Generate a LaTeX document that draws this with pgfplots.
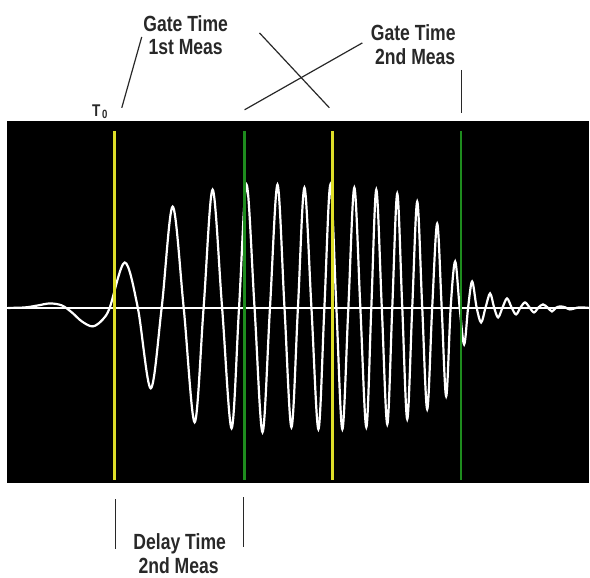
\documentclass[border=0pt]{standalone}
\usepackage{fontspec}
\setmainfont{Liberation Sans}[FakeStretch=0.8]
\usepackage{pgfplots}
\pgfplotsset{compat=1.18}

\definecolor{scopeyellow}{RGB}{222,222,40}
\definecolor{scopegreen}{RGB}{30,140,30}
\definecolor{annot}{RGB}{40,40,40}

\begin{document}
\begin{tikzpicture}
\begin{axis}[
    width=590pt, height=579pt, scale only axis,
    xmin=0, xmax=590, ymin=0, ymax=579,
    y dir=reverse,
    hide axis,
    clip=false,
]
    % page frame and scope screen
    \path (axis cs:0,0) rectangle (axis cs:590,579);
    \fill[black] (axis cs:7,121) rectangle (axis cs:590,484);

    % chirp burst (pixel coordinates)
    \addplot[white, line width=2.2pt, smooth, tension=0.55] coordinates {
        (8,308.5) (25,308) (38,306) (50,304) (62,306) (72,313) (82,322)
        (93,327) (103,320) (110,308) (125,263) (138,308) (151,389)
        (162,308) (173,207) (184,308) (195,423) (204,308) (213,190)
        (222.5,308) (232,429) (239.5,308) (247,185) (255,308) (263,433)
        (270.5,308) (278,185) (285,308) (292,428) (298.5,308) (305,188)
        (312,308) (319,430) (325,308) (331,185) (337,308) (343,430)
        (349,308) (355,188) (361,308) (367,428) (372,308) (377,190)
        (382.5,308) (388,425) (393,308) (398,194) (403,308) (408,420)
        (413,308) (418,202) (423,308) (428,410) (433,308) (438,224)
        (442.5,308) (447,397) (451.5,308) (456,262) (460.5,308) (465,345)
        (469,308) (473,282) (477.5,308) (482,323) (486.5,308) (491,294)
        (495,308) (499,318) (503.5,308) (508,299) (512.5,308) (517,315)
        (521.5,308) (526,303) (530.5,308) (535,313) (539.5,308) (544,305)
        (548.5,308) (553,312) (557.5,308) (562,307) (566.5,308) (571,310)
        (580,308) (590,308.5)
    };
    % baseline
    \addplot[white, line width=2pt] coordinates {(7,308.5) (590,308.5)};

    % gate markers
    \addplot[scopeyellow, line width=2.6pt] coordinates {(115,131) (115,481)};
    \addplot[scopeyellow, line width=2.6pt] coordinates {(333,131) (333,481)};
    \addplot[scopegreen, line width=2.6pt] coordinates {(245,131) (245,481)};
    \addplot[scopegreen, line width=2.6pt] coordinates {(462,131) (462,481)};

    % annotation leaders
    \draw[annot, line width=1.2pt] (axis cs:122,108) -- (axis cs:142,37);
    \draw[annot, line width=1.2pt] (axis cs:260,33) -- (axis cs:330,108);
    \draw[annot, line width=1.2pt] (axis cs:245,110) -- (axis cs:363,43);
    \draw[annot, line width=1.2pt] (axis cs:462,70) -- (axis cs:462,113);
    \draw[annot, line width=1.2pt] (axis cs:116,500) -- (axis cs:116,550);
    \draw[annot, line width=1.2pt] (axis cs:244,498) -- (axis cs:244,548);

    % labels
    \begin{scope}[every node/.style={annot, inner sep=0pt, anchor=base,
            font=\fontsize{22pt}{24pt}\selectfont\bfseries}]
        \node at (axis cs:186,32) {Gate Time};
        \node at (axis cs:186,55) {1st Meas};
        \node at (axis cs:414,41) {Gate Time};
        \node at (axis cs:416,65) {2nd Meas};
        \node at (axis cs:180,551) {Delay Time};
        \node at (axis cs:179,575) {2nd Meas};
    \end{scope}
    \node[annot, inner sep=0pt, anchor=base west,
        font=\fontsize{17pt}{18pt}\selectfont\bfseries] at (axis cs:92,117) {T};
    \node[annot, inner sep=0pt, anchor=base west,
        font=\fontsize{12pt}{12pt}\selectfont\bfseries] at (axis cs:102,118.5) {0};
\end{axis}
\end{tikzpicture}
\end{document}
